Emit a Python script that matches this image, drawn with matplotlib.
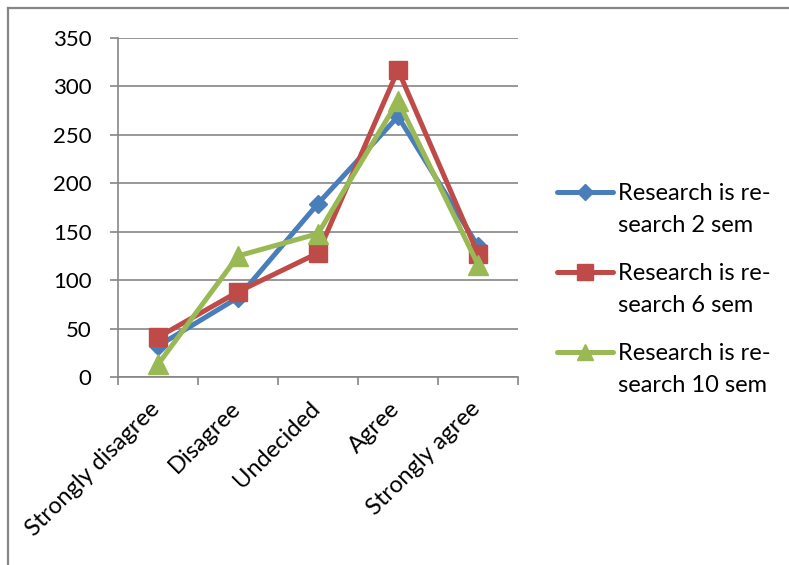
import matplotlib
matplotlib.use("Agg")
import matplotlib.pyplot as plt
from matplotlib.lines import Line2D

plt.rcParams['font.family'] = ['Lato', 'DejaVu Sans']

categories = ["Strongly disagree", "Disagree", "Undecided", "Agree", "Strongly agree"]
sem2 = [32, 82, 179, 269, 135]
sem6 = [41, 88, 128, 317, 127]
sem10 = [13, 125, 148, 285, 116]
series_labels = ["Research is re-\nsearch 2 sem", "Research is re-\nsearch 6 sem", "Research is re-\nsearch 10 sem"]
yticks = [0, 50, 100, 150, 200, 250, 300, 350]

W, H = 789, 565
fig = plt.figure(figsize=(W / 100, H / 100), dpi=100)
ax = fig.add_axes([118 / W, 1 - 377 / H, 400 / W, 339 / H])

grid_c = "#868686"
styles = [
    dict(color="#4A7EBB", marker="D", ms=9.5, lw=3.6),
    dict(color="#BE4B48", marker="s", ms=13.5, lw=3.6),
    dict(color="#98B954", marker="^", ms=14, lw=3.6),
]
x = list(range(len(categories)))
for vals, st in zip([sem2, sem6, sem10], styles):
    ax.plot(x, vals, color=st["color"], lw=st["lw"], marker=st["marker"],
            ms=st["ms"], mfc=st["color"], mec=st["color"], solid_joinstyle="miter",
            zorder=3)

ax.set_xlim(-0.5, len(categories) - 0.5)
ax.set_ylim(0, 350)
ax.set_yticks(yticks)
ax.set_yticklabels([str(v) for v in yticks], fontsize=16)
ax.yaxis.grid(True, color=grid_c, lw=1.2)
ax.set_axisbelow(True)

# category labels, rotated and ending just right of each category centre
ax.set_xticks(x)
ax.set_xticklabels([])
for i, name in enumerate(categories):
    ax.annotate(name, xy=(i, 0), xycoords=ax.get_xaxis_transform(),
                xytext=(4.5, -15), textcoords="offset points",
                rotation=45, ha="right", va="top", fontsize=17,
                annotation_clip=False)
ax.set_xticks([i - 0.5 for i in range(len(categories) + 1)], minor=True)
ax.tick_params(axis="x", which="major", length=0)
ax.tick_params(axis="x", which="minor", length=6, color=grid_c, width=1.2)
ax.tick_params(axis="y", length=6, color=grid_c, width=1.2, pad=13)

for s in ["top", "right"]:
    ax.spines[s].set_visible(False)
for s in ["left", "bottom"]:
    ax.spines[s].set_color(grid_c)
    ax.spines[s].set_linewidth(1.2)

# legend entries, handle aligned with the first text line
leg_y = [192, 272, 352]
for (st, lab, yy) in zip(styles, series_labels, leg_y):
    yf = 1 - yy / H
    fig.add_artist(Line2D([557 / W, 613 / W], [yf, yf], transform=fig.transFigure,
                          color=st["color"], lw=st["lw"], solid_capstyle="round"))
    fig.add_artist(Line2D([585 / W], [yf], transform=fig.transFigure,
                          color=st["color"], marker=st["marker"],
                          ms=st["ms"] * 0.85, mec=st["color"], lw=0))
    fig.text(618 / W, 1 - (yy - 9) / H, lab, fontsize=17, va="top", ha="left",
             linespacing=1.65)

# outer frame
fig.add_artist(Line2D([8 / W, 1], [1 - 8 / H, 1 - 8 / H], transform=fig.transFigure,
                      color=grid_c, lw=1.6))
fig.add_artist(Line2D([8 / W, 8 / W], [1 - 8 / H, 0], transform=fig.transFigure,
                      color=grid_c, lw=1.6))

fig.savefig("out.png", dpi=100)
